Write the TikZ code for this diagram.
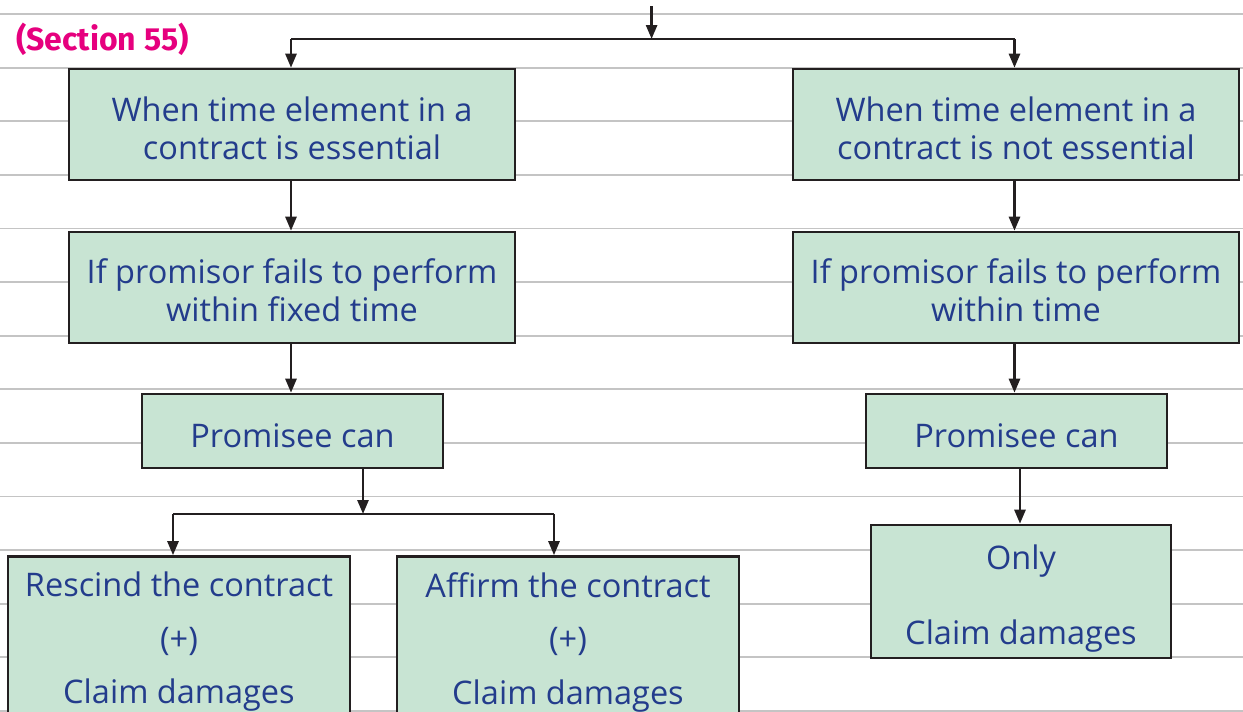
\documentclass[tikz,border=0pt]{standalone}
\usepackage{fontspec}
\setmainfont{Open Sans}
\newfontfamily\secfont{Fira Sans}
\usetikzlibrary{arrows.meta}
\definecolor{boxfill}{RGB}{200,228,211}
\definecolor{boxtext}{RGB}{35,60,140}
\definecolor{edge}{RGB}{35,31,32}
\definecolor{rule}{RGB}{196,196,196}
\definecolor{secpink}{RGB}{230,0,126}
% invisible strut that pushes the first line of a box down
\newcommand\boxlift[1]{\rule{0pt}{#1}}
\tikzset{
  flowbox/.style={draw=edge, line width=2.6pt, fill=boxfill, text=boxtext,
    align=center, inner sep=0pt, font=\fontsize{32.5}{37.5}\selectfont},
  link/.style={draw=edge, line width=2.6pt},
  arr/.style={link, -{Triangle[length=14pt,width=11pt]}},
  ruleline/.style={draw=rule, line width=1.8pt}
}
\begin{document}
\begin{tikzpicture}[x=1pt, y=-1pt]
\useasboundingbox (0,0) rectangle (1243,712);
\fill[white] (0,0) rectangle (1243,712);
% ruled paper
\foreach \k in {0,...,13}
  \draw[ruleline] (0,14+53.6*\k) -- (1243,14+53.6*\k);

\node[text=secpink, font=\secfont\bfseries\fontsize{32}{36}\selectfont, anchor=base west, inner sep=0pt]
  (sec) at (16,50) {(Section 55)};

% boxes
\node[flowbox, minimum width=446pt, minimum height=111pt] (ess) at (292,124.5)
  {\boxlift{32.5pt}When time element in a\\contract is essential};
\node[flowbox, minimum width=446pt, minimum height=111pt] (ness) at (1016,124.5)
  {\boxlift{32.5pt}When time element in a\\contract is not essential};
\node[flowbox, minimum width=446pt, minimum height=111pt] (failL) at (292,287.5)
  {\boxlift{30.5pt}If promisor fails to perform\\within fixed time};
\node[flowbox, minimum width=446pt, minimum height=111pt] (failR) at (1016,287.5)
  {\boxlift{30.5pt}If promisor fails to perform\\within time};
\node[flowbox, minimum width=301pt, minimum height=74pt] (canL) at (292.5,431)
  {\boxlift{32.5pt}Promisee can};
\node[flowbox, minimum width=301pt, minimum height=74pt] (canR) at (1016.5,431)
  {\boxlift{32.5pt}Promisee can};
\node[flowbox, minimum width=342pt, minimum height=171pt] (resc) at (179,642)
  {Rescind the contract\\[16pt](+)\\[16pt]Claim damages};
\node[flowbox, minimum width=342pt, minimum height=171pt] (affm) at (568,642)
  {Affirm the contract\\[16pt](+)\\[16pt]Claim damages};
\node[flowbox, minimum width=300pt, minimum height=133pt] (only) at (1021,591.5)
  {\boxlift{38.5pt}Only\\[38pt]Claim damages};

% connectors
\coordinate (top) at (651.6,6);
\coordinate (split) at (651.6,39);
\coordinate (splitL) at (291,39);
\coordinate (splitR) at (1014.5,39);
\draw[arr] (top) -- (split);
\draw[link] (splitL) -- (splitR);
\draw[arr] (splitL) -- (splitL |- ess.north);
\draw[arr] (splitR) -- (splitR |- ness.north);
\draw[arr] (ess.south -| splitL) -- (failL.north -| splitL);
\draw[arr] (ness.south -| splitR) -- (failR.north -| splitR);
\draw[arr] (failL.south -| splitL) -- (canL.north -| splitL);
\draw[arr] (failR.south -| splitR) -- (canR.north -| splitR);

\coordinate (fork) at (363,514);
\coordinate (forkL) at (173,514);
\coordinate (forkR) at (554,514);
\draw[arr] (canL.south -| fork) -- (fork);
\draw[link] (forkL) -- (forkR);
\draw[arr] (forkL) -- (forkL |- resc.north);
\draw[arr] (forkR) -- (forkR |- affm.north);

\coordinate (down) at (1020,0);
\draw[arr] (canR.south -| down) -- (only.north -| down);
\end{tikzpicture}
\end{document}
